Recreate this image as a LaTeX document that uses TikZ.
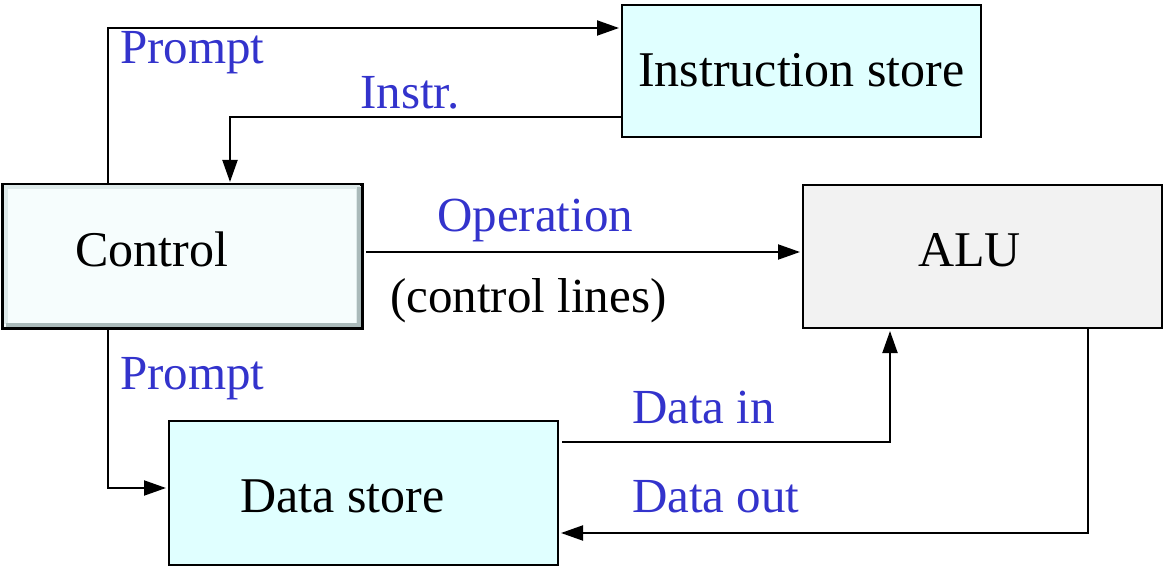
\documentclass[tikz,border=0pt]{standalone}
\usepackage{fontspec}
\setmainfont{Liberation Serif}
\usetikzlibrary{arrows.meta}
\definecolor{lblblue}{RGB}{51,51,204}
\definecolor{storecyan}{RGB}{224,255,255}
\definecolor{ctrlfill}{RGB}{246,253,253}
\definecolor{alugray}{RGB}{242,242,242}
\definecolor{bevellight}{RGB}{222,234,234}
\definecolor{beveldark}{RGB}{170,186,186}
\tikzset{
  unitbox/.style={draw=black, line width=2pt, inner sep=0pt},
  boxtext/.style={anchor=base west, inner sep=0pt, font=\fontsize{50}{60}\selectfont},
  lbltext/.style={anchor=base west, inner sep=0pt, text=lblblue, font=\fontsize{49}{59}\selectfont},
  flow/.style={line width=2pt, -{Triangle[length=22pt,width=15pt]}, shorten >=2pt},
}

\begin{document}
\begin{tikzpicture}[x=1pt,y=1pt,yscale=-1,xscale=1]
\useasboundingbox (0,0) rectangle (1163,567);

% Boxes
\node [unitbox, fill=storecyan, minimum width=359, minimum height=132] (istore) at (801.5,71) {};
\node [unitbox, fill=ctrlfill, minimum width=359, minimum height=143] (ctrl) at (182.5,256.5) {};
% bevel of the control box
\draw [bevellight, line width=4pt] (358,324) |- (6,187) -- (6,324);
\draw [beveldark, line width=4pt] (6,325) -| (359,187);
\draw [black, line width=2pt] (ctrl.south west) rectangle (ctrl.north east);
\node [unitbox, fill=alugray, minimum width=359, minimum height=143] (alu) at (982.5,256.5) {};
\node [unitbox, fill=storecyan, minimum width=389, minimum height=144] (dstore) at (363.5,493) {};

% Box texts
\node [boxtext] (istoretxt) at (638,87) {Instruction store};
\node [boxtext] (ctrltxt) at (75,266) {Control};
\node [boxtext] (alutxt) at (918,266) {ALU};
\node [boxtext] (dstoretxt) at (240,512) {Data store};

% Connectors
\draw [flow] (108,0 |- ctrl.north) |- (istore.west |- 0,28);
\draw [flow] (istore.west |- 0,117) -| (230,0 |- ctrl.north);
\draw [flow, shorten <=3pt] (ctrl.east |- 0,252) -- (alu.west |- 0,252);
\draw [flow] (108,0 |- ctrl.south) |- (dstore.west |- 0,488);
\draw [flow, shorten <=3pt] (dstore.east |- 0,442) -| (890,0 |- alu.south);
\draw [flow] (1088,0 |- alu.south) |- (dstore.east |- 0,533);

% Labels
\node [lbltext] (lblprompta) at (120,64) {Prompt};
\node [lbltext] (lblinstr) at (360,109) {Instr.};
\node [lbltext] (lblop) at (437,232) {Operation};
\node [lbltext, text=black] (lblctrllines) at (390,312) {(control lines)};
\node [lbltext] (lblpromptb) at (120,389) {Prompt};
\node [lbltext] (lbldatain) at (632,423) {Data in};
\node [lbltext] (lbldataout) at (632,512) {Data out};

\end{tikzpicture}
\end{document}
